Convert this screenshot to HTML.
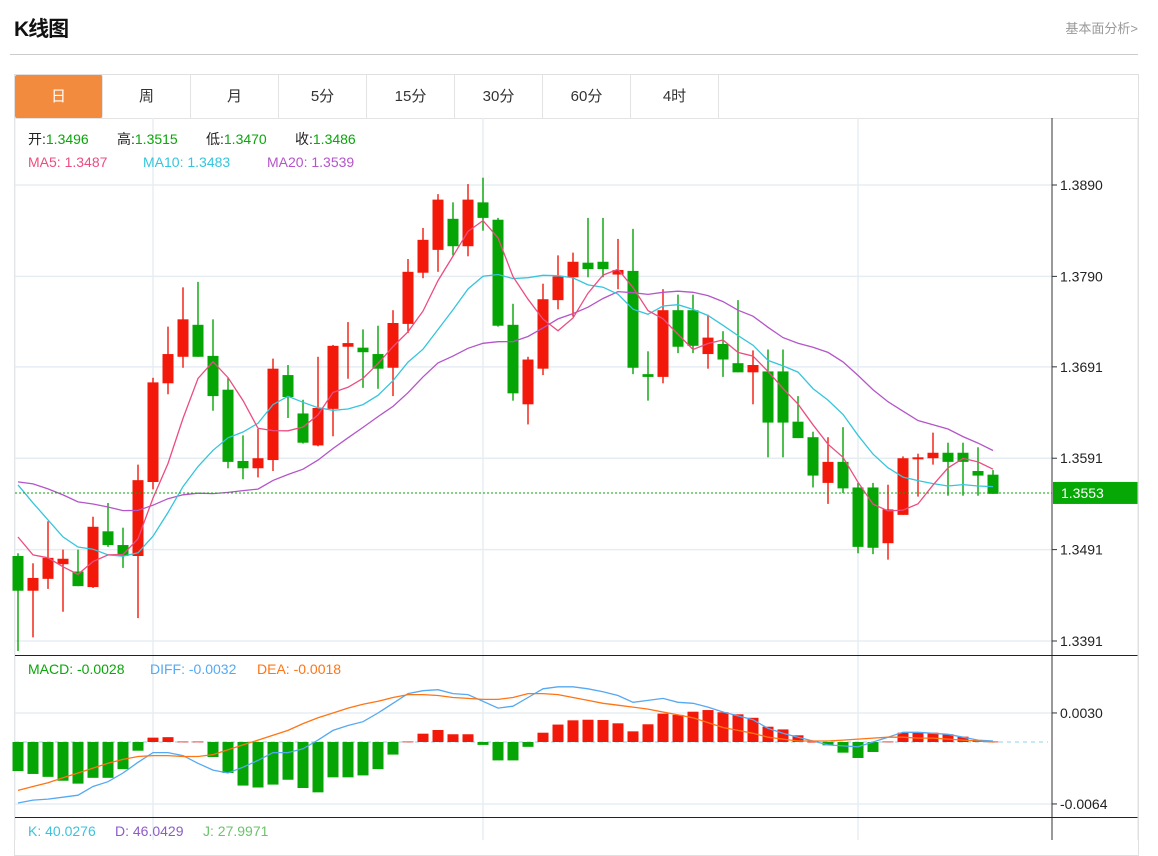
<!DOCTYPE html>
<html><head><meta charset="utf-8">
<style>
html,body{margin:0;padding:0;background:#fff;width:1158px;height:840px;overflow:hidden;font-family:"Liberation Sans","Noto Sans CJK SC",sans-serif;}
#title{position:absolute;left:14px;top:13px;font-size:21px;font-weight:bold;color:#111;letter-spacing:-1px;}
#more{position:absolute;right:20px;top:18px;font-size:13px;color:#999;}
#divider{position:absolute;left:10px;top:54px;width:1128px;height:1px;background:#ccc;}
#box{position:absolute;left:14px;top:74px;width:1123px;height:780px;border:1px solid #e0e0e0;}
#tabs{position:absolute;left:15px;top:75px;height:43px;display:flex;}
.tab{width:87px;height:43px;border-right:1px solid #e3e3e3;text-align:center;line-height:43px;font-size:15px;color:#333;}
.tab.active{background:#f38b3f;color:#fff;border-radius:2px;}
#tabline{position:absolute;left:15px;top:118px;width:1123px;height:1px;background:#e3e3e3;}
svg{position:absolute;left:0;top:0;}
</style></head><body>
<div id="title">K线图</div>
<div id="more">基本面分析&gt;</div>
<div id="divider"></div>
<div id="box"></div>
<div id="tabs">
<div class="tab active">日</div>
<div class="tab">周</div>
<div class="tab">月</div>
<div class="tab">5分</div>
<div class="tab">15分</div>
<div class="tab">30分</div>
<div class="tab">60分</div>
<div class="tab">4时</div>
</div>
<div id="tabline"></div>
<svg id="chart" width="1158" height="840"></svg>
<script>
const openP=[1.3484,1.3446,1.3459,1.3475,1.3467,1.3450,1.3511,1.3496,1.3484,1.3565,1.3673,1.3702,1.3737,1.3703,1.3666,1.3588,1.3580,1.3589,1.3682,1.3640,1.3605,1.3645,1.3713,1.3712,1.3705,1.3690,1.3738,1.3794,1.3819,1.3853,1.3823,1.3871,1.3852,1.3737,1.3650,1.3689,1.3764,1.3789,1.3805,1.3806,1.3792,1.3796,1.3683,1.3680,1.3753,1.3753,1.3705,1.3716,1.3695,1.3685,1.3686,1.3686,1.3631,1.3614,1.3564,1.3587,1.3559,1.3559,1.3498,1.3529,1.3590,1.3591,1.3597,1.3597,1.3577,1.3573];
const closeP=[1.3446,1.3460,1.3482,1.3481,1.3451,1.3516,1.3496,1.3484,1.3567,1.3674,1.3705,1.3743,1.3702,1.3659,1.3587,1.3580,1.3591,1.3689,1.3658,1.3608,1.3646,1.3714,1.3717,1.3707,1.3689,1.3739,1.3795,1.3830,1.3874,1.3823,1.3874,1.3854,1.3736,1.3662,1.3699,1.3765,1.3790,1.3806,1.3798,1.3798,1.3797,1.3690,1.3680,1.3753,1.3713,1.3714,1.3723,1.3699,1.3685,1.3693,1.3630,1.3630,1.3613,1.3572,1.3587,1.3558,1.3494,1.3493,1.3535,1.3591,1.3592,1.3597,1.3587,1.3587,1.3572,1.3552];
const highP=[1.3487,1.3476,1.3522,1.3491,1.3491,1.3527,1.3542,1.3515,1.3584,1.3679,1.3735,1.3778,1.3784,1.3743,1.3679,1.3616,1.3623,1.3700,1.3693,1.3655,1.3702,1.3715,1.3740,1.3732,1.3736,1.3753,1.3809,1.3843,1.3880,1.3871,1.3891,1.3898,1.3854,1.3760,1.3702,1.3782,1.3813,1.3816,1.3854,1.3854,1.3831,1.3842,1.3708,1.3776,1.3770,1.3770,1.3748,1.3730,1.3764,1.3709,1.3710,1.3710,1.3659,1.3620,1.3614,1.3625,1.3564,1.3564,1.3562,1.3593,1.3596,1.3619,1.3608,1.3608,1.3603,1.3578];
const lowP=[1.3380,1.3395,1.3448,1.3423,1.3451,1.3449,1.3494,1.3471,1.3416,1.3557,1.3661,1.3690,1.3702,1.3643,1.3580,1.3568,1.3570,1.3577,1.3635,1.3607,1.3604,1.3615,1.3678,1.3668,1.3667,1.3659,1.3728,1.3788,1.3795,1.3813,1.3812,1.3840,1.3735,1.3654,1.3628,1.3682,1.3754,1.3746,1.3789,1.3789,1.3776,1.3683,1.3654,1.3673,1.3706,1.3706,1.3689,1.3680,1.3685,1.3650,1.3592,1.3592,1.3613,1.3559,1.3541,1.3553,1.3487,1.3486,1.3480,1.3529,1.3549,1.3584,1.3550,1.3550,1.3550,1.3552];
const priorCloses=[1.3504,1.3591,1.3612,1.3604,1.3562,1.3562,1.3562,1.3562,1.3562,1.3562,1.3657,1.3668,1.3667,1.3561,1.3541,1.3558,1.3498,1.3530,1.3492];
const priceTicks=[1.3890,1.3790,1.3691,1.3591,1.3491,1.3391];
const lastPrice=1.3553;
const macdBars=[-30,-33,-36,-40,-43,-37,-37,-28,-9,4.5,5,0.5,0.5,-15.5,-32,-45,-47,-44,-39,-47.5,-52,-36.5,-36.5,-34.5,-28,-13,0.5,8.6,12.4,8,8,-3,-19,-19,-5,9.6,18,22.4,23,22.7,19.3,11,18.3,29.3,28,31.3,33,30.7,28.6,25,15.8,13,6.9,0.3,-3.4,-11,-16.5,-10.3,0.5,9.6,9.6,9.6,8,5.5,2,0.5];
const diffVals=[-63,-60,-59,-57,-55,-46,-41,-32,-21,-11,-11,-14,-22,-29,-32,-26,-19,-11,-11,-7,2,12,17,21,30,40,50,53,54,50,49,42,35,37,46,55,57,57,55,52,48,41,43,45,41,40,36,31,27,23,14,9,5,1,-3,-4,-5,0,5,10,10,9,8,5,2,1];
const deaVals=[-50,-46,-42,-37,-32,-27,-22,-18,-15,-14,-14,-15,-15,-13,-8,-3,2,7,12,19,25,30,35,39,42,46,49,49,48,46,45,44,44,46,50,50,49,46,43,40,38,36,34,31,28,25,20,15,12,9,5,3,1,1,1,2,3,4,5,5,4,4,3,2,1,0];
const macdTicks=[0.0030,-0.0064];

const NS='http://www.w3.org/2000/svg';
const svg=document.getElementById('chart');
const X0=18, DX=15;
const xOf=i=>X0+i*DX;
const yP=p=>185+(1.3890-p)*9138;
const yM=v=>742-v*9681;
function mk(tag,attrs,parent){const e=document.createElementNS(NS,tag);for(const k in attrs)e.setAttribute(k,attrs[k]);(parent||svg).appendChild(e);return e;}

// grids
const grid=mk('g',{});


priceTicks.forEach(t=>{mk('line',{x1:15,x2:1052,y1:yP(t),y2:yP(t),stroke:'#e6edf2','stroke-width':1.5},grid);});
macdTicks.forEach(t=>{mk('line',{x1:15,x2:1052,y1:yM(t),y2:yM(t),stroke:'#e6edf2','stroke-width':1.5},grid);});
[153,483,858].forEach(x=>{mk('line',{x1:x,x2:x,y1:118,y2:840,stroke:'#e6edf2','stroke-width':1.5},grid);});
mk('line',{x1:15,x2:15,y1:118,y2:840,stroke:'#e6edf2','stroke-width':1},grid);

// MA lines
const allC=priorCloses.concat(closeP);
function ma(n){const out=[];for(let i=0;i<closeP.length;i++){const j=i+priorCloses.length;let s=0;for(let k=j-n+1;k<=j;k++)s+=allC[k];out.push(s/n);}return out;}
function poly(vals,yf,color,name,w){const pts=vals.map((v,i)=>xOf(i)+','+yf(v).toFixed(1)).join(' ');const l=mk('polyline',{points:pts,fill:'none',stroke:color,'stroke-width':w||1.3});return l;}

// candles
const cg=mk('g',{});


for(let i=0;i<openP.length;i++){
  const up=closeP[i]>=openP[i];const col=up?'#f2190b':'#04a504';
  const x=xOf(i);
  const g=mk('g',{},cg);
  
  
  mk('line',{x1:x,x2:x,y1:yP(highP[i]),y2:yP(lowP[i]),stroke:col,'stroke-width':1.4},g);
  const yt=yP(Math.max(openP[i],closeP[i])),yb=yP(Math.min(openP[i],closeP[i]));
  mk('rect',{x:x-5.5,y:yt,width:11,height:Math.max(2,yb-yt),fill:col},g);
}
poly(ma(20),yP,'#b455c9','ma20-line');
poly(ma(10),yP,'#35c5dc','ma10-line');
poly(ma(5),yP,'#ec4d80','ma5-line');

// last price line
const lp=mk('line',{x1:15,x2:1052,y1:yP(lastPrice),y2:yP(lastPrice),stroke:'#0aa60a','stroke-width':1,'stroke-dasharray':'2,2'});


const lb=mk('rect',{x:1053,y:yP(lastPrice)-11,width:85,height:22,fill:'#05a805'});


const lt=mk('text',{x:1061,y:yP(lastPrice)+5,fill:'#fff','font-size':14});
lt.textContent=lastPrice.toFixed(4);



// MACD
const mg=mk('g',{});


mk('line',{x1:15,x2:1048,y1:yM(0),y2:yM(0),stroke:'#8fd3ee','stroke-width':1,'stroke-dasharray':'4,4'},mg);
macdBars.forEach((b,i)=>{
  const v=b/10000;const y0=yM(0),y1=yM(v);
  const r=mk('rect',{x:xOf(i)-5.5,y:Math.min(y0,y1),width:11,height:Math.max(0.8,Math.abs(y1-y0)),fill:v>=0?'#f2190b':'#04a504'},mg);
  
  
});
poly(diffVals.map(v=>v/10000),yM,'#55a9f2','diff-line',1.3);
poly(deaVals.map(v=>v/10000),yM,'#ff7414','dea-line',1.3);

// axes
const ax=mk('g',{});


mk('line',{x1:1052,x2:1052,y1:118,y2:840,stroke:'#333','stroke-width':1},ax);
mk('line',{x1:15,x2:1138,y1:655.5,y2:655.5,stroke:'#222','stroke-width':1},ax);
mk('line',{x1:15,x2:1138,y1:817.5,y2:817.5,stroke:'#222','stroke-width':1},ax);
priceTicks.forEach(t=>{
  const y=yP(t);
  mk('line',{x1:1052,x2:1057,y1:y,y2:y,stroke:'#333'},ax);
  const tx=mk('text',{x:1060,y:y+5,fill:'#222','font-size':14},ax);
  tx.textContent=t.toFixed(4);
  
  
});
macdTicks.forEach(t=>{
  const y=yM(t);
  mk('line',{x1:1052,x2:1057,y1:y,y2:y,stroke:'#333'},ax);
  const tx=mk('text',{x:1060,y:y+5,fill:'#222','font-size':14},ax);
  tx.textContent=t.toFixed(4);
  
  
});

// legends
function txt(x,y,s,col,name){const t=mk('text',{x:x,y:y,fill:col,'font-size':14,'font-family':'"Liberation Sans","Noto Sans CJK SC",sans-serif'});t.textContent=s;return t;}
const ohlc=[['开:','1.3496',28],['高:','1.3515',117],['低:','1.3470',206],['收:','1.3486',295]];
ohlc.forEach(([a,b,x],k)=>{const t=txt(x,144,'','#222','ohlc-legend-'+k);const s1=mk('tspan',{},t);s1.textContent=a;const s2=mk('tspan',{fill:'#0aa60a'},t);s2.textContent=b;});
txt(28,167,'MA5: 1.3487','#ec4d80','ma5-legend');
txt(143,167,'MA10: 1.3483','#35c5dc','ma10-legend');
txt(267,167,'MA20: 1.3539','#b455c9','ma20-legend');
txt(28,674,'MACD: -0.0028','#0aa60a','macd-legend');
txt(150,674,'DIFF: -0.0032','#55a9f2','diff-legend');
txt(257,674,'DEA: -0.0018','#ff7414','dea-legend');
txt(28,836,'K: 40.0276','#3cc2dc','k-legend');
txt(115,836,'D: 46.0429','#8e5cc9','d-legend');
txt(203,836,'J: 27.9971','#6cc36c','j-legend');
mk('line',{x1:1138,x2:1138,y1:118,y2:840,stroke:'#e0e0e0'});
</script>
</body></html>
